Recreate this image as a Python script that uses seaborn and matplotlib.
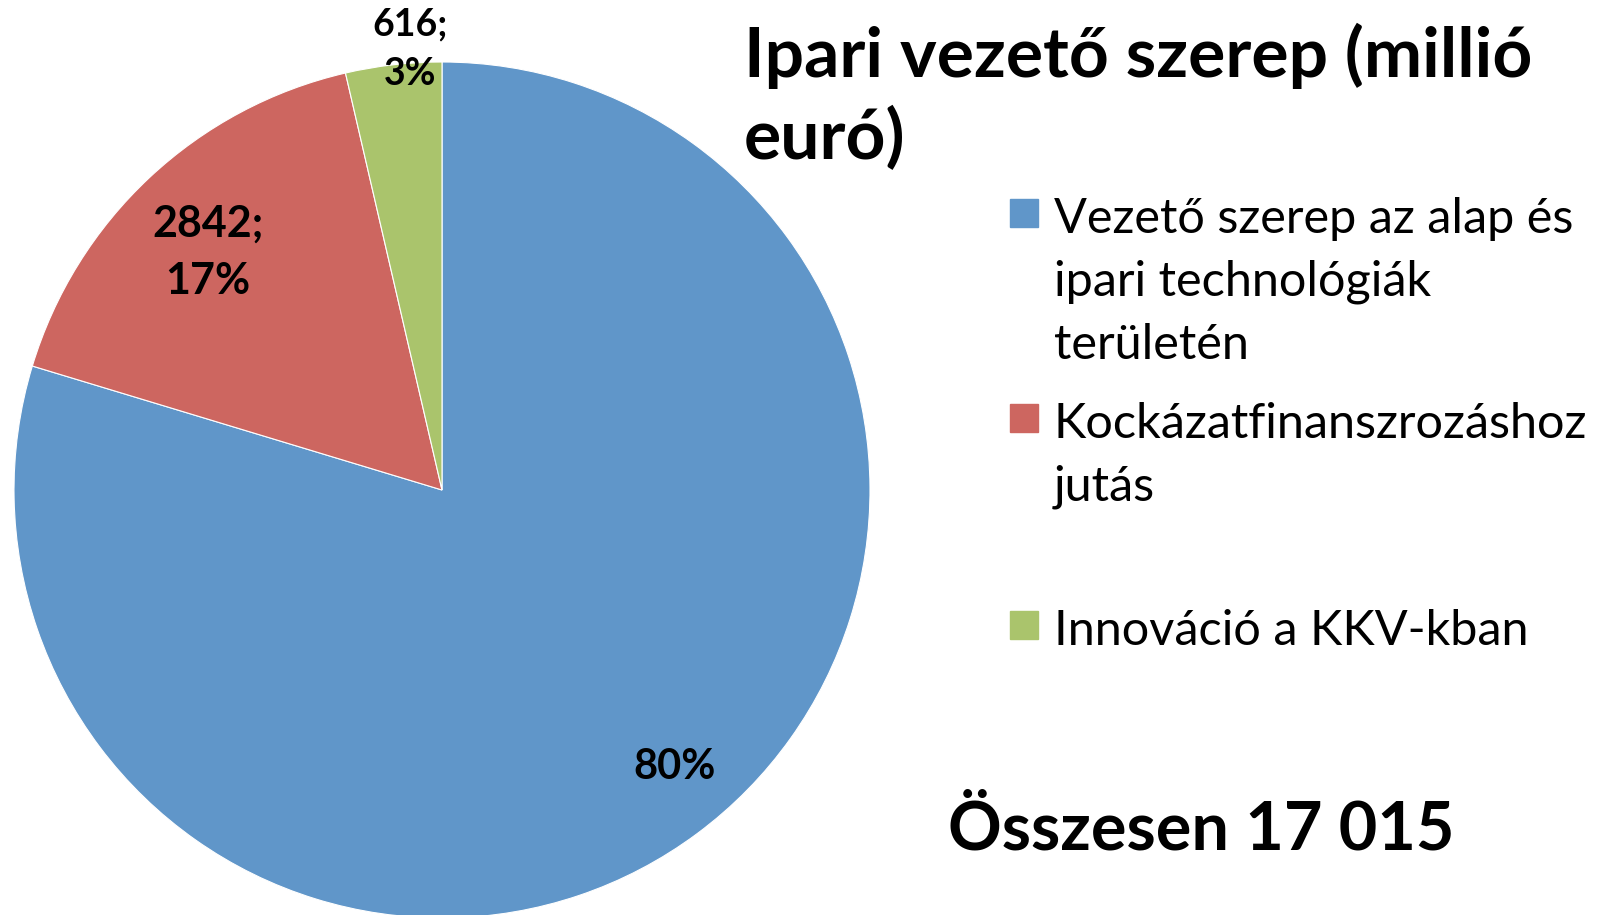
import matplotlib
matplotlib.use("Agg")
import matplotlib.pyplot as plt
import seaborn as sns
from matplotlib.patches import Rectangle
import numpy as np

# data
categories = ["Vezető szerep az alap és\nipari technológiák\nterületén",
              "Kockázatfinanszrozáshoz\njutás",
              "Innováció a KKV-kban"]
values = [13557, 2842, 616]
pct_labels = ["80%", "17%", "3%"]
show_value = [False, True, True]
title = "Ipari vezető szerep (millió\neuró)"
total_label = "Összesen 17 015"
colors = ["#6096C9", "#CD6660", "#AAC46C"]

sns.set_theme(style="white")
plt.rcParams["font.family"] = ["Lato", "DejaVu Sans"]
plt.rcParams["text.color"] = "black"

W, H = 1604, 915
fig = plt.figure(figsize=(W / 100, H / 100), dpi=100)
fig.patch.set_facecolor("white")


def fx(x):
    return x / W


def fy(y):
    return 1 - y / H


# pie placed by pixel centre / radius
cx, cy, r = 442, 490, 428
ax = fig.add_axes([(cx - r) / W, (H - cy - r) / H, 2 * r / W, 2 * r / H])
wedges, _ = ax.pie(values, colors=colors, startangle=90, counterclock=False,
                   radius=1, wedgeprops=dict(linewidth=0.8, edgecolor="white"))
ax.set_xlim(-1, 1)
ax.set_ylim(-1, 1)
ax.set_aspect("equal")
ax.axis("off")

# data labels near each wedge's mid angle (Excel "best fit" style)
label_r = [0.845, 0.78, 1.032]
label_turn = [3.5, 1.5, -2.4]
label_size = [30, 31, 27]
for w, v, p, sv, lr, lt, ls in zip(wedges, values, pct_labels, show_value,
                                   label_r, label_turn, label_size):
    ang = np.deg2rad((w.theta1 + w.theta2) / 2 + lt)
    txt = f"{v};\n{p}" if sv else p
    ax.text(lr * np.cos(ang), lr * np.sin(ang), txt, ha="center", va="center",
            fontsize=ls, fontweight="bold", color="black", linespacing=1.55,
            clip_on=False)

# title, one line at a time
for i, line in enumerate(title.split("\n")):
    fig.text(fx(744), fy(77 + 82 * i), line, fontsize=50, fontweight="bold",
             va="baseline", ha="left")

# legend
sq_top = [199, 404, 611]
for cat, col, top in zip(categories, colors, sq_top):
    fig.patches.append(Rectangle((fx(1010), fy(top + 28)), 28 / W, 28 / H,
                                 transform=fig.transFigure, color=col))
    for j, line in enumerate(cat.split("\n")):
        fig.text(fx(1054), fy(top + 34 + 63 * j), line, fontsize=35,
                 va="baseline", ha="left")

fig.text(fx(948), fy(849), total_label, fontsize=48, fontweight="bold",
         va="baseline", ha="left")

fig.savefig("out.png", dpi=100)
